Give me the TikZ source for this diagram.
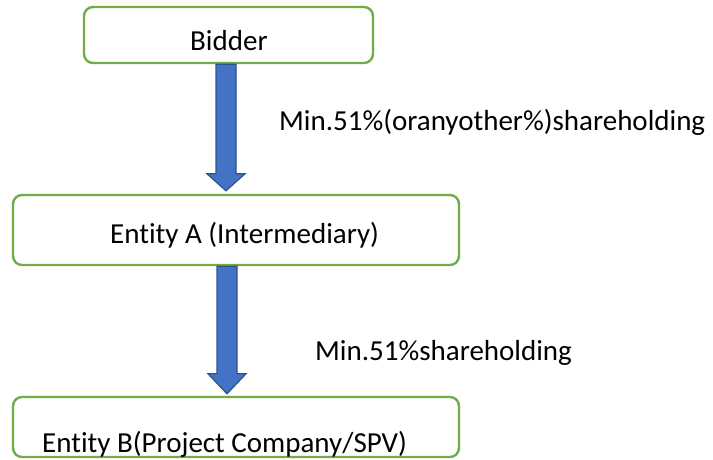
\documentclass[tikz,border=0pt]{standalone}
\usepackage{fontspec}
\setmainfont{Carlito}[Ligatures={NoCommon}]
\usetikzlibrary{calc}
\definecolor{boxgreen}{HTML}{70AD47}
\definecolor{arrowblue}{HTML}{4472C4}
\definecolor{arrowedge}{HTML}{2F528F}
\begin{document}
\begin{tikzpicture}[x=1pt,y=-1pt,
  entbox/.style={draw=boxgreen, line width=2.4pt, rounded corners=9pt, fill=white, inner sep=0pt},
  lbl/.style={inner sep=0pt, anchor=base west, font=\fontsize{29}{34}\selectfont},
  blockarrow/.style={fill=arrowblue, draw=arrowedge, line width=1.2pt, line join=miter}]
\useasboundingbox (0,0) rectangle (713,459);
\fill[white] (0,0) rectangle (713,459);
% boxes
\node[entbox, minimum width=289pt, minimum height=56pt] (bidder) at (228.5,35) {};
\node[entbox, minimum width=446pt, minimum height=70pt] (entA) at (236,230) {};
\node[entbox, minimum width=446pt, minimum height=60pt] (entB) at (236,427) {};
% texts
\node[lbl] (tbidder) at (190,50) {Bidder};
\node[lbl] (tentA) at (110,243) {Entity A (Intermediary)};
\node[lbl] (tentB) at (42,452) {Entity B(Project Company/SPV)};
\node[lbl] (l1) at (279,130) {Min.51\%(oranyother\%)shareholding};
\node[lbl] (l2) at (315,360) {Min.51\%shareholding};
% block arrows: from bottom of one box to top of the next
\coordinate (a1s) at ($(bidder.south)+(-2.5,0)$);
\coordinate (a1e) at (a1s |- entA.north);
\draw[blockarrow] ($(a1s)+(-10,0)$) -- ($(a1s)+(10,0)$) -- ($(a1e)+(10,-20)$) -- ($(a1e)+(19,-20)$) -- ($(a1e)+(0,-3)$) -- ($(a1e)+(-19,-20)$) -- ($(a1e)+(-10,-20)$) -- cycle;
\coordinate (a2s) at ($(entA.south)+(-9,0)$);
\coordinate (a2e) at (a2s |- entB.north);
\draw[blockarrow] ($(a2s)+(-10,0)$) -- ($(a2s)+(10,0)$) -- ($(a2e)+(10,-22)$) -- ($(a2e)+(19,-22)$) -- ($(a2e)+(0,-2)$) -- ($(a2e)+(-19,-22)$) -- ($(a2e)+(-10,-22)$) -- cycle;
\end{tikzpicture}
\end{document}
